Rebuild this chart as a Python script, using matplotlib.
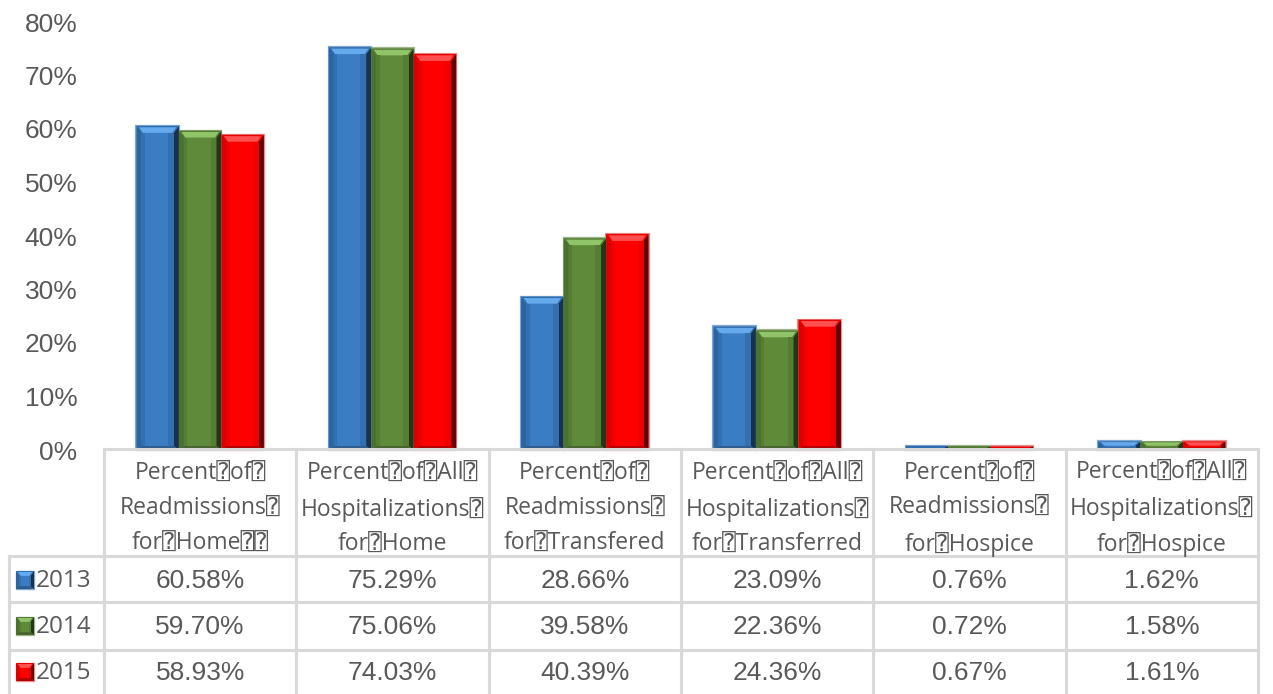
import matplotlib
matplotlib.use("Agg")
import matplotlib.pyplot as plt
from matplotlib.patches import Polygon, Rectangle
from matplotlib.lines import Line2D

# ---- data -------------------------------------------------------------
categories = [
    "Percent\u2370of\u2370\nReadmissions\u2370\nfor\u2370Home\u2370\u2370",
    "Percent\u2370of\u2370All\u2370\nHospitalizations\u2370\nfor\u2370Home",
    "Percent\u2370of\u2370\nReadmissions\u2370\nfor\u2370Transfered",
    "Percent\u2370of\u2370All\u2370\nHospitalizations\u2370\nfor\u2370Transferred",
    "Percent\u2370of\u2370\nReadmissions\u2370\nfor\u2370Hospice",
    "Percent\u2370of\u2370All\u2370\nHospitalizations\u2370\nfor\u2370Hospice",
]
years = ["2013", "2014", "2015"]
values_2013 = [60.58, 75.29, 28.66, 23.09, 0.76, 1.62]
values_2014 = [59.70, 75.06, 39.58, 22.36, 0.72, 1.58]
values_2015 = [58.93, 74.03, 40.39, 24.36, 0.67, 1.61]
series = [values_2013, values_2014, values_2015]
y_ticks = [0, 10, 20, 30, 40, 50, 60, 70, 80]

# ---- styling ----------------------------------------------------------
palettes = [
    dict(main="#3A7DC3", left="#2C64A0", right="#17314F", top="#2F6CAC",
         hl="#66AAEE", bottom="#2E5B8C", inner="#3470B0", glow="#7FA5D2"),
    dict(main="#5E8A3A", left="#4B7030", right="#233717", top="#527A32",
         hl="#90C468", bottom="#48632F", inner="#557D34", glow="#9DB58A"),
    dict(main="#FF0000", left="#D80000", right="#660000", top="#E80000",
         hl="#FF5050", bottom="#B00000", inner="#EE0000", glow="#E89090"),
]
TEXT = "#595959"
GRID = "#D9D9D9"
NUM_FONT = ["Liberation Sans", "DejaVu Sans"]
LBL_FONT = ["Open Sans", "DejaVu Sans", "DejaVu Sans Mono"]

W, H = 1273, 694
fig = plt.figure(figsize=(W / 100, H / 100), dpi=100)


def fx(px):
    return px / W


def fy(py):
    return 1 - py / H


LEFT, RIGHT, TOP, BASE = 104, 1258, 22, 450
ax = fig.add_axes([fx(LEFT), fy(BASE), (RIGHT - LEFT) / W, (BASE - TOP) / H])
n = len(categories)
ax.set_xlim(-0.5, n - 0.5)
ax.set_ylim(0, 80)
for s in ax.spines.values():
    s.set_visible(False)
ax.set_xticks([])
ax.set_yticks(y_ticks)
ax.set_yticklabels([f"{t}%" for t in y_ticks], fontsize=19, color=TEXT,
                   family=NUM_FONT)
ax.tick_params(axis="y", length=0, pad=19)

px_x = n / (RIGHT - LEFT)      # data units per pixel, x
px_y = 80 / (BASE - TOP)        # data units per pixel, y


def bevel(target, x0, x1, y0, y1, ux, uy, pal, transform, z):
    """Bevelled faces for a box; ux/uy are one pixel in the given units."""
    bx, bt, bb = 5 * ux, 7 * uy, 4 * uy
    w, h = x1 - x0, y1 - y0
    bx = min(bx, w * 0.3)
    bt = min(bt, h * 0.5)
    bb = min(bb, h * 0.3)
    xi0, xi1 = x0 + bx, x1 - bx
    yi0, yi1 = y0 + bb, y1 - bt
    if yi1 < yi0:
        yi1 = yi0
    faces = [
        ([(x0, y0), (x0, y1), (xi0, yi1), (xi0, yi0)], pal["left"]),
        ([(x1, y0), (x1, y1), (xi1, yi1), (xi1, yi0)], pal["right"]),
        ([(x0, y0), (x1, y0), (xi1, yi0), (xi0, yi0)], pal["bottom"]),
        ([(x0, y1), (x1, y1), (xi1, yi1), (xi0, yi1)], pal["top"]),
    ]
    for pts, c in faces:
        target.add_artist(Polygon(pts, closed=True, facecolor=c, edgecolor="none",
                                  transform=transform, zorder=z))
    if h > 6 * uy:
        # light highlight on the top face
        t = min(1.5 * uy, bt * 0.2)
        hl = [(x0 + 2.5 * ux, y1 - t), (x1 - 2.5 * ux, y1 - t),
              (xi1 - 1.5 * ux, yi1), (xi0 + 1.5 * ux, yi1)]
        target.add_artist(Polygon(hl, closed=True, facecolor=pal["hl"],
                                  edgecolor="none", transform=transform, zorder=z))
    if yi1 > yi0:
        sw = (xi1 - xi0) * 0.18
        target.add_artist(Rectangle((xi1 - sw, yi0), sw, yi1 - yi0, facecolor=pal["inner"],
                                    edgecolor="none", transform=transform, zorder=z))
        target.add_artist(Rectangle((xi0, yi0), sw * 0.6, yi1 - yi0, facecolor=pal["inner"],
                                    edgecolor="none", transform=transform, zorder=z))


bar_w = 42.5 * px_x
offsets = [-bar_w, 0.0, bar_w]
xs = list(range(n))
for si, (vals, pal) in enumerate(zip(series, palettes)):
    bars = ax.bar([x + offsets[si] for x in xs], vals, width=bar_w,
                  color=pal["main"], edgecolor=pal["glow"], linewidth=1.6,
                  zorder=2, clip_on=False)
    for b in bars:
        x0 = b.get_x()
        x1 = x0 + b.get_width()
        y1 = b.get_height()
        bevel(ax, x0, x1, 0, y1, px_x, px_y, pal, ax.transData, 3)

# ---- data table -------------------------------------------------------
T_TOP, HDR_BOT = 449, 556
ROW_LINES = [556, 602, 650]
ROW_CENTERS = [581, 627, 673]
KEY_X0 = 9
col_w = (RIGHT - LEFT) / n
col_edges = [LEFT + i * col_w for i in range(n + 1)]


def hline(y, x0, x1):
    fig.add_artist(Line2D([fx(x0), fx(x1)], [fy(y), fy(y)], color=GRID,
                          lw=2.2, transform=fig.transFigure, zorder=1))


def vline(x, y0, y1):
    fig.add_artist(Line2D([fx(x), fx(x)], [fy(y0), fy(y1)], color=GRID,
                          lw=2.2, transform=fig.transFigure, zorder=1))


hline(T_TOP, LEFT, RIGHT)
for y in ROW_LINES:
    hline(y, KEY_X0, RIGHT)
vline(KEY_X0, HDR_BOT, H + 5)
for x in col_edges:
    vline(x, T_TOP, H + 5)

for i, cat in enumerate(categories):
    cx = (col_edges[i] + col_edges[i + 1]) / 2
    fig.text(fx(cx), fy(509), cat, ha="center", va="center", fontsize=16.5,
             color=TEXT, family=LBL_FONT, linespacing=1.6)

for r, (yr, vals, pal) in enumerate(zip(years, series, palettes)):
    cy = ROW_CENTERS[r]
    k0, k1, kt, kb = 16, 34, cy - 10, cy + 8
    fig.add_artist(Rectangle((fx(k0), fy(kb)), fx(k1) - fx(k0), fy(kt) - fy(kb),
                             facecolor=pal["main"], edgecolor=pal["glow"], lw=1.0,
                             transform=fig.transFigure, zorder=2))
    bevel(fig, fx(k0), fx(k1), fy(kb), fy(kt), 0.7 / W, 0.7 / H, pal,
          fig.transFigure, 3)
    fig.text(fx(36), fy(cy), yr, ha="left", va="center", fontsize=17.5,
             color=TEXT, family=LBL_FONT)
    for i, v in enumerate(vals):
        cx = (col_edges[i] + col_edges[i + 1]) / 2
        fig.text(fx(cx), fy(cy), f"{v:.2f}%", ha="center", va="center",
                 fontsize=19, color=TEXT, family=NUM_FONT)

fig.savefig("out.png", dpi=100)
